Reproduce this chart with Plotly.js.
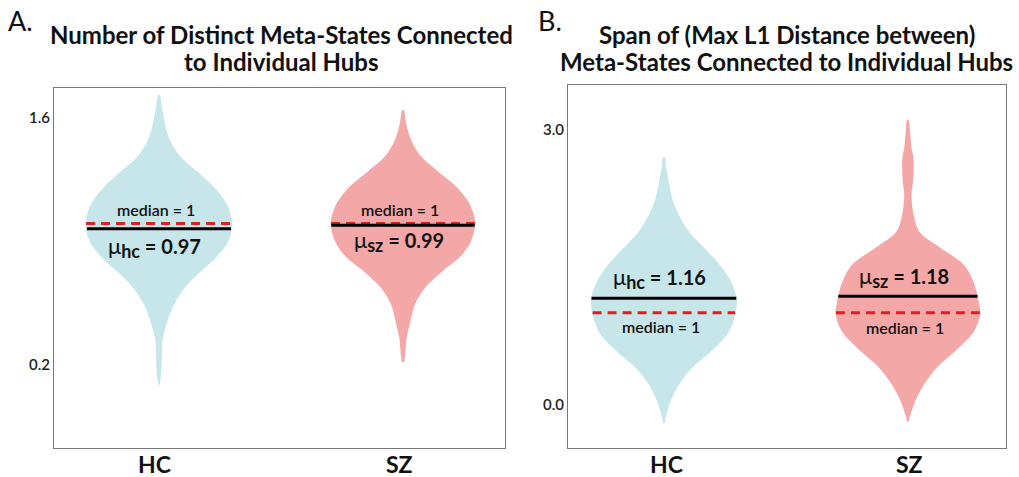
<!DOCTYPE html>
<html><head><meta charset="utf-8">
<script src="https://cdn.plot.ly/plotly-3.0.1.min.js"></script>
<style>html,body{margin:0;padding:0;background:#fff}</style>
</head><body><div id="chart" style="width:1019px;height:477px"></div>
<script>
// ---------- data ----------
const groups = ['HC', 'SZ'];
const panelTitleLines = [['Number of Distinct Meta-States Connected', 'to Individual Hubs'],
                         ['Span of (Max L1 Distance between)', 'Meta-States Connected to Individual Hubs']];
const panelLetters = ['A.', 'B.'];

// Panel A: violin profiles (value, relative density)
const aHcVal  = [0.085,0.153,0.243,0.340,0.436,0.527,0.623,0.719,0.810,0.906,1.003,1.094,1.190,1.286,1.377,1.473,1.570,1.660,1.728];
const aHcDens = [0.01,0.03,0.04,0.05,0.11,0.19,0.33,0.55,0.79,0.96,1.00,0.95,0.79,0.55,0.30,0.15,0.08,0.04,0.01];
const aSzVal  = [0.215,0.255,0.351,0.442,0.538,0.634,0.725,0.822,0.918,1.009,1.105,1.201,1.292,1.388,1.484,1.575,1.643];
const aSzDens = [0.02,0.03,0.05,0.10,0.16,0.30,0.53,0.81,0.95,0.99,0.92,0.75,0.49,0.23,0.10,0.04,0.01];
const aMean   = [0.97, 0.99];
const aMedian = [1, 1];
const aTicks  = [0.2, 1.6];

// Panel B: violin profiles
const bHcVal  = [-0.202,-0.093,0.049,0.235,0.409,0.594,0.780,0.955,1.140,1.325,1.500,1.686,1.871,2.046,2.231,2.417,2.591,2.700];
const bHcDens = [0.01,0.04,0.10,0.22,0.40,0.67,0.88,0.97,1.00,0.93,0.79,0.58,0.36,0.22,0.12,0.07,0.03,0.01];
const bSzVal  = [-0.185,-0.098,0.055,0.229,0.415,0.606,0.791,0.976,1.162,1.336,1.522,1.707,1.882,2.067,2.285,2.427,2.612,2.722,2.798,2.973,3.104];
const bSzDens = [0.01,0.04,0.11,0.23,0.41,0.68,0.90,0.99,0.96,0.90,0.77,0.45,0.16,0.08,0.05,0.07,0.08,0.07,0.05,0.03,0.01];
const bMean   = [1.16, 1.18];
const bMedian = [1, 1];
const bTicks  = [0.0, 3.0];

// ---------- styling ----------
const FONT = 'Lato, "Open Sans", sans-serif';
const fillColors = ['#c6e6ea', '#f4a7a7'];
const HALF = 0.299;  // half width (x units) for relative density 1

function interp(vals, dens, v) {
  for (let i = 0; i < vals.length - 1; i++) {
    if (v >= vals[i] && v <= vals[i+1]) {
      const t = (v - vals[i]) / (vals[i+1] - vals[i]);
      return dens[i] + t * (dens[i+1] - dens[i]);
    }
  }
  return 0;
}

const traces = [];
const annotations = [];

function addPanel(profiles, means, medians, xa, ya, meanShift, medShift, labelShift) {
  profiles.forEach((p, gi) => {
    const c = gi;
    const xs = [], ys = [];
    p.val.forEach((v, i) => { xs.push(c + p.dens[i] * HALF); ys.push(v); });
    for (let i = p.val.length - 1; i >= 0; i--) { xs.push(c - p.dens[i] * HALF); ys.push(p.val[i]); }
    traces.push({type: 'scatter', mode: 'lines', x: xs, y: ys, xaxis: xa, yaxis: ya,
      fill: 'toself', fillcolor: fillColors[gi], line: {width: 0, shape: 'spline', smoothing: 0.9, color: fillColors[gi]},
      hoverinfo: 'skip', showlegend: false});
    const hwMean = interp(p.val, p.dens, means[gi]) * HALF;
    const hwMed = interp(p.val, p.dens, medians[gi]) * HALF;
    traces.push({type: 'scatter', mode: 'lines', x: [c - hwMed, c + hwMed], y: [medians[gi], medians[gi]],
      xaxis: xa, yaxis: ya, line: {color: 'rgb(222,32,32)', width: 3, dash: '9px,6px'}, showlegend: false, hoverinfo: 'skip'});
    traces.push({type: 'scatter', mode: 'lines', x: [c - hwMean, c + hwMean], y: [means[gi], means[gi]],
      xaxis: xa, yaxis: ya, line: {color: '#000', width: 3}, showlegend: false, hoverinfo: 'skip'});
    const sub = groups[gi].toLowerCase();
    annotations.push({xref: xa, yref: ya, x: c, y: medians[gi], xshift: -3, yshift: medShift[gi],
      text: 'median = ' + medians[gi], showarrow: false, yanchor: 'middle',
      font: {family: FONT, size: 16, color: '#111', weight: 600}});
    annotations.push({xref: xa, yref: ya, x: c, y: means[gi], xshift: -4, yshift: meanShift[gi],
      text: '<span style="font-size:22px">μ</span><sub><span style="font-size:18px"><b>' + sub + '</b></span></sub><b> = ' + means[gi].toFixed(2) + '</b>',
      showarrow: false, yanchor: 'middle',
      font: {family: FONT, size: 20, color: '#111'}});
    // category label under the axis
    annotations.push({xref: xa, yref: 'paper', x: c, y: 1 - 464/477, xshift: labelShift[gi], yanchor: 'middle',
      text: '<b>' + groups[gi] + '</b>', showarrow: false, font: {family: FONT, size: 23, color: '#111'}});
  });
}

addPanel([{val: aHcVal, dens: aHcDens}, {val: aSzVal, dens: aSzDens}], aMean, aMedian, 'x', 'y', [-18, -16], [13.5, 13.5], [-4, -3]);
addPanel([{val: bHcVal, dens: bHcDens}, {val: bSzVal, dens: bSzDens}], bMean, bMedian, 'x2', 'y2', [20, 19], [-14, -15], [3, 2]);

// titles (two lines each)
const titleX = [0.2758, 0.7723];
const lineY = [34, 61];
panelTitleLines.forEach((lines, i) => {
  lines.forEach((t, j) => {
    annotations.push({xref: 'paper', yref: 'paper', x: titleX[i], y: 1 - lineY[j]/477, xanchor: 'center', yanchor: 'middle',
      text: '<b>' + t + '</b>', showarrow: false, font: {family: FONT, size: 24, color: '#111'}});
  });
});
const letterX = [6/1019, 536/1019];
panelLetters.forEach((t, i) => {
  annotations.push({xref: 'paper', yref: 'paper', x: letterX[i], y: 1 - 21/477, xanchor: 'left', yanchor: 'middle',
    text: t, showarrow: false, font: {family: FONT, size: 27, color: '#111'}});
});

const xaxisBase = {tickvals: [0, 1], showticklabels: false, showgrid: false, zeroline: false, showline: true, mirror: true,
  linecolor: '#777', linewidth: 1, ticks: '', fixedrange: true};
const yaxisBase = {showgrid: false, zeroline: false, showline: true, mirror: true, linecolor: '#777', linewidth: 1,
  ticks: '', tickfont: {family: FONT, size: 15, color: '#222', weight: 600}, fixedrange: true};

const layout = {
  width: 1019, height: 477, margin: {l: 0, r: 0, t: 0, b: 0}, paper_bgcolor: '#fff', plot_bgcolor: '#fff',
  showlegend: false,
  xaxis: Object.assign({}, xaxisBase, {domain: [54/1019, 505/1019], range: [-0.430, 1.418], anchor: 'y'}),
  yaxis: Object.assign({}, yaxisBase, {domain: [29/477, 389/477], range: [-0.273, 1.768], tickvals: aTicks, ticktext: aTicks.map(v => v.toFixed(1)), anchor: 'x'}),
  xaxis2: Object.assign({}, xaxisBase, {domain: [568/1019, 1006/1019], range: [-0.393, 1.402], anchor: 'y2'}),
  yaxis2: Object.assign({}, yaxisBase, {domain: [29/477, 392/477], range: [-0.4745, 3.485], tickvals: bTicks, ticktext: bTicks.map(v => v.toFixed(1)), anchor: 'x2'}),
  annotations: annotations
};

Plotly.newPlot('chart', traces, layout, {displayModeBar: false, staticPlot: true});
</script></body></html>
